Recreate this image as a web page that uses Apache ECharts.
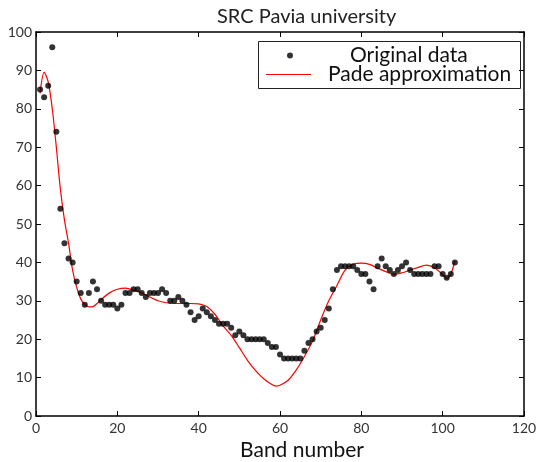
<!DOCTYPE html>
<html>
<head>
<meta charset="utf-8">
<script src="https://cdn.jsdelivr.net/npm/echarts@6/dist/echarts.min.js"></script>
<style>
  html, body { margin: 0; padding: 0; background: #fff; }
  #chart { width: 539px; height: 462px; }
</style>
</head>
<body>
<div id="chart"></div>
<script>
// Original data, one value per band (1..103)
const originalData = [
  85, 83, 86, 96, 74, 54, 45, 41, 40, 35,
  32, 29, 32, 35, 33, 30, 29, 29, 29, 28,
  29, 32, 32, 33, 33, 32, 31, 32, 32, 32,
  33, 32, 30, 30, 31, 30, 29, 27, 25, 26,
  28, 27, 26, 25, 24, 24, 24, 23, 21, 22,
  21, 20, 20, 20, 20, 20, 19, 18, 18, 16,
  15, 15, 15, 15, 15, 17, 19, 20, 22, 23,
  25, 28, 33, 38, 39, 39, 39, 39, 38, 37,
  37, 35, 33, 39, 41, 39, 38, 37, 38, 39,
  40, 38, 37, 37, 37, 37, 37, 39, 39, 37,
  36, 37, 40
]

// Pade approximation: band positions and values
const padeBands = [
  1, 2, 3, 4, 5, 6, 7, 8, 9, 10, 11, 12, 13, 14, 15, 16, 18, 20, 22, 24,
  26, 28, 30, 32, 34, 36, 38, 40, 42, 44, 46, 48, 50, 52, 54, 56, 58, 59, 60, 62,
  64, 66, 68, 70, 72, 74, 76, 78, 80, 82, 84, 86, 88, 90, 92, 94, 96, 98, 100, 101,
  102, 103
]
const padeValues = [
  84, 89.5, 87, 80, 70, 59, 51, 45, 38, 33.5, 30.5, 29, 28.4, 28.5, 29.3, 30.3, 32, 33, 33.3, 32.8,
  32, 31, 30, 29.5, 29.3, 29.3, 29.3, 29.2, 28.5, 26.5, 23.5, 21, 17.8, 14.5, 11.8, 9.7, 8.2, 7.8, 8, 9.3,
  12, 15.5, 19.5, 25, 30, 34, 38, 39.5, 39.8, 39.5, 38.5, 37.6, 36.9, 37.3, 38, 38.7, 39.3, 38.6, 36.8, 35.9,
  37, 40.3
]

const xTicks = { min: 0, max: 120, interval: 20 }
const yTicks = { min: 0, max: 100, interval: 10 }

const chart = echarts.init(document.getElementById('chart'), null, { renderer: 'canvas' })

const fontFamily = 'Lato, "Open Sans", sans-serif'
const axisLineStyle = { color: '#000', width: 1.5 }

const option = {
  animation: false,
  backgroundColor: '#fff',
  title: {
    text: 'SRC Pavia university',
    left: 212,
    top: 2,
    textStyle: { fontFamily, fontSize: 20, fontWeight: 'normal', color: '#222' }
  },
  grid: { left: 36, right: 15, top: 32, bottom: 46, outerBoundsMode: 'none', containLabel: false },
  legend: [
    {
      data: [{ name: 'Original data', icon: 'circle' }],
      left: 282,
      top: 40,
      itemWidth: 6,
      itemHeight: 6,
      textStyle: { fontFamily, fontSize: 21, color: '#111', padding: [0, 0, 0, 52] }
    },
    {
      data: [{ name: 'Pade approximation', icon: 'rect' }],
      left: 261,
      top: 59,
      itemWidth: 45,
      itemHeight: 1.2,
      textStyle: { fontFamily, fontSize: 21, color: '#111', padding: [0, 0, 0, 12] }
    }
  ],
  graphic: [
    {
      type: 'rect',
      left: 256,
      top: 39,
      shape: { width: 262, height: 47 },
      style: { fill: 'none', stroke: '#222', lineWidth: 1 },
      z: 10
    }
  ],
  xAxis: [
    {
      type: 'value',
      min: xTicks.min,
      max: xTicks.max,
      interval: xTicks.interval,
      name: 'Band number',
      nameLocation: 'middle',
      nameGap: 20,
      nameTextStyle: { fontFamily, fontSize: 21, color: '#111', padding: [0, 0, 0, 44] },
      axisLine: { onZero: false, lineStyle: axisLineStyle },
      axisTick: { inside: true, length: 5, lineStyle: { color: '#000' } },
      axisLabel: { fontFamily, fontSize: 14, color: '#333', margin: 5 },
      splitLine: { show: false }
    },
    {
      type: 'value',
      position: 'top',
      min: xTicks.min,
      max: xTicks.max,
      interval: xTicks.interval,
      axisLine: { onZero: false, lineStyle: axisLineStyle },
      axisTick: { inside: true, length: 5, lineStyle: { color: '#000' } },
      axisLabel: { show: false },
      splitLine: { show: false }
    }
  ],
  yAxis: [
    {
      type: 'value',
      min: yTicks.min,
      max: yTicks.max,
      interval: yTicks.interval,
      axisLine: { show: true, onZero: false, lineStyle: axisLineStyle },
      axisTick: { show: true, inside: true, length: 5, lineStyle: { color: '#000' } },
      axisLabel: { fontFamily, fontSize: 14, color: '#333', margin: 4 },
      splitLine: { show: false }
    },
    {
      type: 'value',
      position: 'right',
      min: yTicks.min,
      max: yTicks.max,
      interval: yTicks.interval,
      axisLine: { show: true, onZero: false, lineStyle: axisLineStyle },
      axisTick: { show: true, inside: true, length: 5, lineStyle: { color: '#000' } },
      axisLabel: { show: false },
      splitLine: { show: false }
    }
  ],
  series: [
    {
      name: 'Pade approximation',
      type: 'line',
      data: padeBands.map((b, i) => [b, padeValues[i]]),
      smooth: 0.3,
      showSymbol: false,
      symbol: 'none',
      itemStyle: { color: '#ff0000' },
      lineStyle: { color: '#ff0000', width: 1.2 },
      z: 3
    },
    {
      name: 'Original data',
      type: 'scatter',
      data: originalData.map((v, i) => [i + 1, v]),
      symbol: 'circle',
      symbolSize: 6,
      itemStyle: { color: '#000' },
      z: 4
    }
  ]
}

chart.setOption(option)
</script>
</body>
</html>
